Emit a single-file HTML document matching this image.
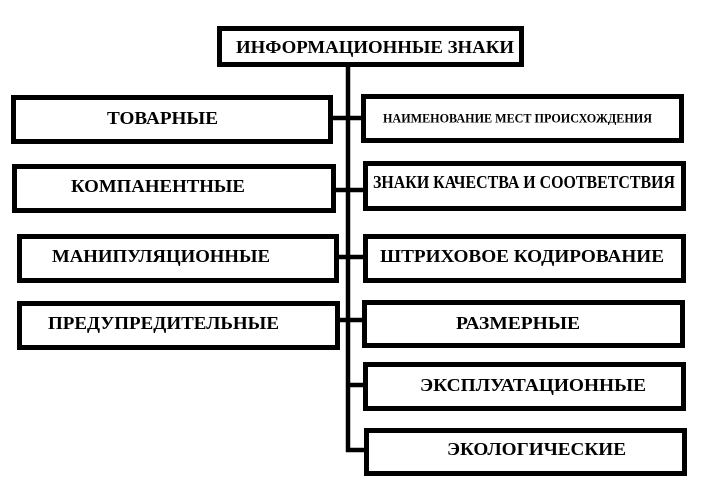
<!DOCTYPE html>
<html><head><meta charset="utf-8"><style>html,body{margin:0;padding:0;background:#fff;}svg{display:block}</style></head>
<body>
<svg width="711" height="490" viewBox="0 0 711 490" xmlns="http://www.w3.org/2000/svg">
<g fill="none" stroke="#000" stroke-width="5">
<rect x="219.5" y="28.5" width="302" height="36"/>
<rect x="13.5" y="97.5" width="317" height="44"/>
<rect x="14.5" y="166.5" width="319" height="44"/>
<rect x="19.5" y="236.5" width="317" height="44"/>
<rect x="19.5" y="303.5" width="318" height="44"/>
<rect x="363.5" y="96.5" width="318" height="44"/>
<rect x="365.5" y="163.5" width="318" height="45"/>
<rect x="365.5" y="236.5" width="318" height="44"/>
<rect x="364.5" y="302.5" width="318" height="43"/>
<rect x="365.5" y="364.5" width="318" height="44"/>
<rect x="366.5" y="430.5" width="318" height="43"/>
</g>
<g stroke="#000" stroke-width="4.5" fill="none">
<line x1="348" y1="66" x2="348" y2="452"/>
<line x1="333" y1="118" x2="362" y2="118"/>
<line x1="336" y1="190" x2="364" y2="190"/>
<line x1="339" y1="257" x2="364" y2="257"/>
<line x1="340" y1="320" x2="363" y2="320"/>
<line x1="346" y1="385" x2="364" y2="385"/>
<line x1="346" y1="450" x2="365" y2="450"/>
</g>
<g font-family="'Liberation Serif', serif" font-weight="bold" fill="#000" font-size="18" dominant-baseline="central">
<text x="236" y="47" textLength="278" lengthAdjust="spacingAndGlyphs">ИНФОРМАЦИОННЫЕ ЗНАКИ</text>
<text x="107" y="118" textLength="111" lengthAdjust="spacingAndGlyphs">ТОВАРНЫЕ</text>
<text x="71" y="186" textLength="174" lengthAdjust="spacingAndGlyphs">КОМПАНЕНТНЫЕ</text>
<text x="52" y="256" textLength="218" lengthAdjust="spacingAndGlyphs">МАНИПУЛЯЦИОННЫЕ</text>
<text x="48" y="323" textLength="231" lengthAdjust="spacingAndGlyphs">ПРЕДУПРЕДИТЕЛЬНЫЕ</text>
<text x="383" y="118" font-size="13" textLength="269" lengthAdjust="spacingAndGlyphs">НАИМЕНОВАНИЕ МЕСТ ПРОИСХОЖДЕНИЯ</text>
<text x="373" y="182" textLength="302" lengthAdjust="spacingAndGlyphs">ЗНАКИ КАЧЕСТВА И СООТВЕТСТВИЯ</text>
<text x="380" y="256" textLength="284" lengthAdjust="spacingAndGlyphs">ШТРИХОВОЕ КОДИРОВАНИЕ</text>
<text x="456" y="323" textLength="124" lengthAdjust="spacingAndGlyphs">РАЗМЕРНЫЕ</text>
<text x="420" y="385" textLength="226" lengthAdjust="spacingAndGlyphs">ЭКСПЛУАТАЦИОННЫЕ</text>
<text x="447" y="449" textLength="179" lengthAdjust="spacingAndGlyphs">ЭКОЛОГИЧЕСКИЕ</text>
</g>
</svg>
</body></html>
